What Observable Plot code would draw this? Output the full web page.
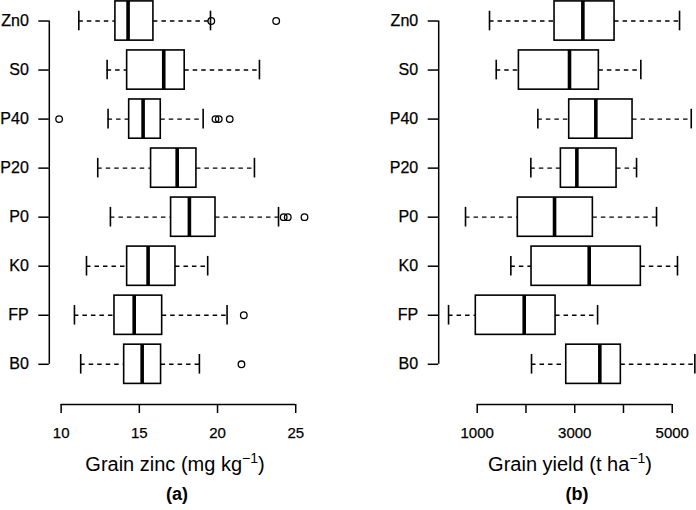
<!DOCTYPE html>
<html><head><meta charset="utf-8">
<script src="https://cdn.jsdelivr.net/npm/d3@7"></script>
<script src="https://cdn.jsdelivr.net/npm/@observablehq/plot@0.6"></script>
<style>
html,body{margin:0;padding:0;background:#fff;overflow:hidden}
#fig{position:relative;width:696px;height:510px;overflow:hidden;font-family:"Liberation Sans",Arial,sans-serif;color:#000;background:#fff}
.panel{position:absolute;top:0}
.panel text{stroke:#000;stroke-width:0.25px}
.t{position:absolute;white-space:nowrap;transform:translateX(-50%);line-height:1}
.xt{font-size:20px}
.xt sup{font-size:0.7em;line-height:0;vertical-align:0.6em}
.pl{font-size:18px;font-weight:bold}
</style></head><body><div id="fig"></div>
<script>
// treatments, bottom-up (as R draws them: first level at the bottom)
const treatments = ["B0","FP","K0","P0","P20","P40","S0","Zn0"];

// (a) Grain zinc (mg kg-1)
const zincLow  = [11.25, 10.85, 11.62, 13.15, 12.34, 13.00, 12.94, 11.13];
const zincQ1   = [14.03, 13.41, 14.22, 17.03, 15.75, 14.35, 14.22, 13.47];
const zincMed  = [15.18, 14.67, 15.56, 18.20, 17.42, 15.24, 16.56, 14.28];
const zincQ3   = [16.39, 16.46, 17.31, 19.87, 18.65, 16.37, 17.90, 15.90];
const zincHigh = [18.84, 20.61, 19.37, 23.90, 22.36, 19.08, 22.68, 19.55];
const zincOutTreat = ["B0","FP","P0","P0","P0","P40","P40","P40","P40","Zn0","Zn0"];
const zincOutVal   = [21.53, 21.68, 24.23, 24.49, 25.56, 9.87, 19.87, 20.08, 20.78, 19.60, 23.75];
const zincTicks = [10, 15, 20, 25];
const zincTickLabels = ["10", "15", "20", "25"];

// (b) Grain yield (t ha-1)
const yieldLow  = [2114, 412, 1690, 760, 2100, 2244, 1390, 1252];
const yieldQ1   = [2826, 971, 2114, 1833, 2716, 2887, 1855, 2586];
const yieldMed  = [3515, 1964, 3297, 2586, 3044, 3433, 2893, 3167];
const yieldQ3   = [3946, 2607, 4356, 3372, 3858, 4186, 3495, 3817];
const yieldHigh = [5464, 3469, 5108, 4678, 4268, 5390, 4356, 5150];
const yieldOutTreat = [];
const yieldOutVal = [];
const yieldTicks = [1000, 2000, 3000, 4000, 5000];
const yieldTickLabels = ["1000", "", "3000", "", "5000"];

function boxPanel({low, q1, med, q3, high, outTreat, outVal, ticks, tickLabels, width, marginLeft, marginRight}) {
  const n = treatments.length;
  const rows = treatments.map((t, i) => ({t, pos: i + 1, lo: low[i], q1: q1[i], med: med[i], q3: q3[i], hi: high[i]}));
  const outs = outTreat.map((t, k) => ({pos: treatments.indexOf(t) + 1, v: outVal[k]}));
  const all = [...low, ...high, ...outVal];
  const mn = d3.min(all), mx = d3.max(all), ext = 0.04 * (mx - mn);
  const xDom = [mn - ext, mx + ext];
  const yDom = [0.5 - 0.04 * n, n + 0.5 + 0.04 * n];
  return Plot.plot({
    width, height: 445,
    marginLeft, marginRight, marginTop: 0, marginBottom: 41,
    style: {fontFamily: '"Liberation Sans", Arial, sans-serif', fontSize: "15px", color: "#000", background: "transparent", overflow: "visible"},
    x: {domain: xDom},
    y: {domain: yDom, range: [404, -19.7]},
    marks: [
      Plot.ruleY(rows, {y: "pos", x1: "lo", x2: "q1", stroke: "#000", strokeWidth: 1.4, strokeDasharray: "4.5,4"}),
      Plot.ruleY(rows, {y: "pos", x1: "q3", x2: "hi", stroke: "#000", strokeWidth: 1.4, strokeDasharray: "4.5,4"}),
      Plot.ruleX(rows, {x: "lo", y1: d => d.pos - 0.2, y2: d => d.pos + 0.2, stroke: "#000", strokeWidth: 1.6}),
      Plot.ruleX(rows, {x: "hi", y1: d => d.pos - 0.2, y2: d => d.pos + 0.2, stroke: "#000", strokeWidth: 1.6}),
      Plot.rect(rows, {x1: "q1", x2: "q3", y1: d => d.pos - 0.4, y2: d => d.pos + 0.4, fill: "#fff", stroke: "#000", strokeWidth: 1.6}),
      Plot.ruleX(rows, {x: "med", y1: d => d.pos - 0.4, y2: d => d.pos + 0.4, stroke: "#000", strokeWidth: 3.6}),
      Plot.dot(outs, {x: "v", y: "pos", r: 3.3, stroke: "#000", strokeWidth: 1.3, fill: "none"}),
      Plot.ruleY([yDom[0]], {x1: ticks[0], x2: ticks[ticks.length - 1], stroke: "#000", strokeWidth: 1.5}),
      Plot.ruleX([xDom[0]], {y1: 1, y2: n, stroke: "#000", strokeWidth: 1.5}),
      Plot.axisX({ticks, tickFormat: d => tickLabels[ticks.indexOf(d)], tickSize: 9, tickPadding: 14, label: null, fontSize: 15, strokeWidth: 1.5}),
      Plot.axisY({ticks: rows.map(d => d.pos), tickFormat: d => treatments[d - 1], tickSize: 10.5, tickPadding: 10, label: null, fontSize: 16, strokeWidth: 1.5})
    ]
  });
}

const fig = document.getElementById("fig");

const pa = boxPanel({low: zincLow, q1: zincQ1, med: zincMed, q3: zincQ3, high: zincHigh,
  outTreat: zincOutTreat, outVal: zincOutVal, ticks: zincTicks, tickLabels: zincTickLabels,
  width: 348, marginLeft: 48.8, marginRight: 34.2});
pa.classList.add("panel"); pa.style.left = "0px";
fig.appendChild(pa);

const pb = boxPanel({low: yieldLow, q1: yieldQ1, med: yieldMed, q3: yieldQ3, high: yieldHigh,
  outTreat: yieldOutTreat, outVal: yieldOutVal, ticks: yieldTicks, tickLabels: yieldTickLabels,
  width: 357, marginLeft: 90.2, marginRight: 0.8});
pb.classList.add("panel"); pb.style.left = "348px";
fig.appendChild(pb);

function addText(cls, html, cx, top) {
  const d = document.createElement("div");
  d.className = "t " + cls;
  d.innerHTML = html;
  d.style.left = cx + "px";
  d.style.top = top + "px";
  fig.appendChild(d);
}
addText("xt", "Grain zinc (mg kg<sup>\u22121</sup>)", 175, 454);
addText("xt", "Grain yield (t ha<sup>\u22121</sup>)", 570, 454);
addText("pl", "(a)", 177, 485);
addText("pl", "(b)", 577, 485);
</script></body></html>
